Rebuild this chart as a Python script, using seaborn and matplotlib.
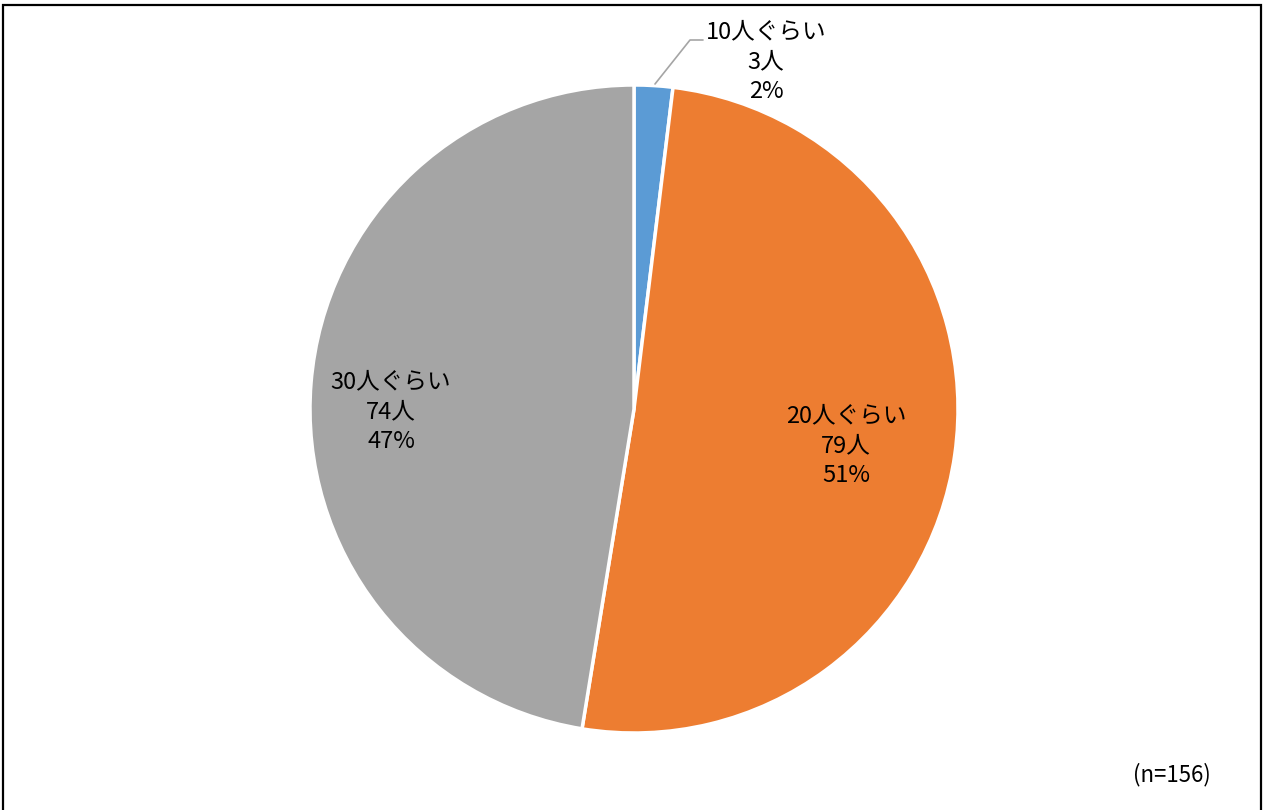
import matplotlib
matplotlib.use("Agg")
import matplotlib.pyplot as plt
import seaborn as sns
from matplotlib.patches import Rectangle

categories = ["10人ぐらい", "20人ぐらい", "30人ぐらい"]
counts = [3, 79, 74]
percents = ["2%", "51%", "47%"]
n_total = 156

sns.set_theme(style="white")
plt.rcParams['font.family'] = ['Noto Sans CJK JP', 'DejaVu Sans']

colors = sns.color_palette(["#5B9BD5", "#ED7D31", "#A5A5A5"])

W, H = 1264, 810
fig = plt.figure(figsize=(W / 100, H / 100), dpi=100)
cx, cy, r = 634, 409, 324
ax = fig.add_axes([(cx - r) / W, (H - cy - r) / H, 2 * r / W, 2 * r / H])

wedges, _ = ax.pie(counts, colors=colors, startangle=90, counterclock=False,
                   wedgeprops=dict(edgecolor="white", linewidth=2.5))
ax.set_xlim(-1, 1)
ax.set_ylim(-1, 1)
ax.set_aspect("auto")
ax.axis("off")

def px(x, y):
    return ((x - cx) / r, (cy - y) / r)

fs = 17
label_pos = [(766, 62), (846, 446), (391, 412)]
for i, (lx, ly) in enumerate(label_pos):
    x, y = px(lx, ly)
    txt = f"{categories[i]}\n{counts[i]}人\n{percents[i]}"
    ax.text(x, y, txt, ha="center", va="center", fontsize=fs,
            linespacing=1.38, color="black", clip_on=False)

# leader line for small slice
p0 = px(655, 84)
p1 = px(690, 40)
p2 = px(703, 40)
ax.plot([p0[0], p1[0], p2[0]], [p0[1], p1[1], p2[1]], color="#A5A5A5",
        linewidth=1.2, clip_on=False)

fig.text(1172 / W, 1 - 775 / H, f"(n={n_total})", ha="center", va="center",
         fontsize=16, color="black")

fig.patches.append(Rectangle((3 / W, -0.01), (1261 - 3) / W, 1.01 - 5 / H,
                             transform=fig.transFigure, fill=False,
                             edgecolor="black", linewidth=1.6))

fig.savefig("out.png", dpi=100)
